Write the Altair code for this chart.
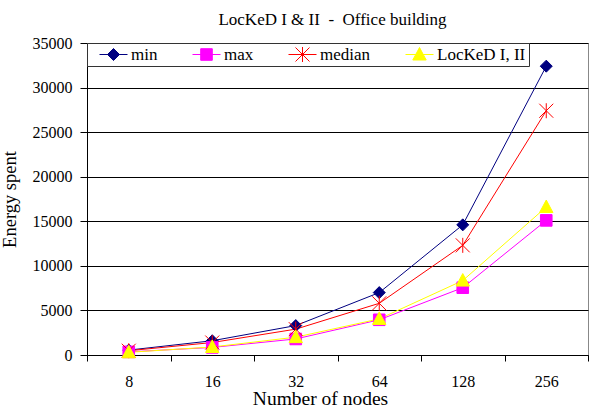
import altair as alt
import pandas as pd

# Number of nodes (categorical x axis)
nodes = ["8", "16", "32", "64", "128", "256"]

# Series names and values (energy spent)
series_names = ["min", "max", "median", "LocKeD I, II"]
energy_min = [550, 1600, 3300, 7000, 14600, 32400]
energy_max = [350, 850, 1800, 3950, 7550, 15100]
energy_median = [480, 1400, 2900, 5800, 12300, 27400]
energy_locked = [300, 900, 2000, 4050, 8350, 16600]

series_colors = ["#000080", "#FF00FF", "#FF0000", "#FFFF00"]
series_values = [energy_min, energy_max, energy_median, energy_locked]

rows = []
for name, vals in zip(series_names, series_values):
    for n, v in zip(nodes, vals):
        rows.append({"nodes": n, "series": name, "energy": v})
df = pd.DataFrame(rows)

FONT = "Liberation Serif"

# Marker outlines in symbol units (1 unit = sqrt(size)/2 px)
marker_shapes = {
    "min": [([(0, -0.6), (0.6, 0), (0, 0.6), (-0.6, 0)], True)],
    "max": [([(-0.58, -0.58), (0.58, -0.58), (0.58, 0.58), (-0.58, 0.58)], True)],
    "median": [
        ([(0, -0.75), (0, 0.75)], False),
        ([(-0.7, -0.7), (0.7, 0.7)], False),
        ([(-0.7, 0.7), (0.7, -0.7)], False),
    ],
    "LocKeD I, II": [([(0, -0.7), (0.67, 0.55), (-0.67, 0.55)], True)],
}


def to_path(parts, k=1.0):
    out = []
    for pts, closed in parts:
        seg = "M" + "L".join(f"{x * k:.3f},{y * k:.3f}" for x, y in pts)
        if closed:
            seg += "Z"
        out.append(seg)
    return "".join(out)


POINT_SIZE = 400          # 10 px per unit
LEGEND_SIZE = 784         # 14 px per unit -> 28 px wide legend key
leg_k = 10 / 14

legend_paths = ["M-1,0L1,0" + to_path(marker_shapes[s], leg_k) for s in series_names]

x_enc = alt.X(
    "nodes:N",
    sort=nodes,
    scale=alt.Scale(paddingInner=0, paddingOuter=0),
    axis=alt.Axis(
        title="Number of nodes",
        labelAngle=0,
        tickBand="extent",
        labelFont=FONT, labelFontSize=16, labelColor="black",
        labelPadding=12,
        tickColor="black", tickSize=6,
        domainColor="black",
        grid=False,
        titleFont=FONT, titleFontSize=19.5, titleFontWeight="normal", titleColor="black",
        titleX=233, titleY=49, titleAlign="center", titleBaseline="alphabetic",
    ),
)
y_enc = alt.Y(
    "energy:Q",
    scale=alt.Scale(domain=[0, 35000], nice=False),
    axis=alt.Axis(
        title="Energy spent",
        values=list(range(0, 35001, 5000)),
        format="d",
        labelFont=FONT, labelFontSize=16, labelColor="black",
        labelPadding=8,
        tickColor="black", tickSize=7,
        domainColor="black",
        gridColor="black", gridWidth=1,
        titleFont=FONT, titleFontSize=18.5, titleFontWeight="normal", titleColor="black",
        titlePadding=13,
    ),
)

# Each series: a thin line plus its own marker, drawn in series order
series_layers = []
for s, c in zip(series_names, series_colors):
    base = alt.Chart(df).transform_filter(alt.datum.series == s)
    series_layers.append(base.mark_line(strokeWidth=1, color=c).encode(x=x_enc, y=y_enc))
for s, c in zip(series_names, series_colors):
    base = alt.Chart(df).transform_filter(alt.datum.series == s)
    series_layers.append(
        base.mark_point(filled=True, opacity=1, size=POINT_SIZE, strokeWidth=1,
                        shape=to_path(marker_shapes[s]), fill=c, stroke=c)
        .encode(x=x_enc, y=y_enc)
    )

# Legend keys: line segment with the series marker; the layer itself draws nothing
color_scale = alt.Scale(domain=series_names, range=series_colors)
legend_layer = (
    alt.Chart(df)
    .transform_filter("false")
    .mark_point(filled=True, opacity=1, strokeWidth=1)
    .encode(
        x=x_enc,
        y=y_enc,
        color=alt.Color("series:N", scale=color_scale, title=None),
        stroke=alt.Stroke("series:N", scale=color_scale, title=None),
        shape=alt.Shape("series:N", scale=alt.Scale(domain=series_names, range=legend_paths),
                        title=None),
    )
)

chart = (
    alt.layer(*series_layers, legend_layer)
    .properties(
        width=501,
        height=312,
        padding={"left": 87, "top": 43, "right": 3, "bottom": 55},
        autosize=alt.AutoSizeParams(type="none"),
        background="white",
        title=alt.TitleParams(
            "LocKeD I & II \u00a0-\u00a0 Office building",
            font=FONT, fontSize=17, fontWeight="normal", color="black",
            anchor="middle", baseline="alphabetic", offset=18.5, frame="group",
            dx=-5, dy=25,
        ),
    )
    .configure_view(stroke="#888888", strokeWidth=1)
    .configure_legend(
        orient="top-left",
        direction="horizontal",
        offset=0,
        padding=3,
        strokeColor="#333333",
        fillColor="white",
        symbolSize=LEGEND_SIZE,
        symbolOffset=9,
        clipHeight=17,
        symbolStrokeWidth=1,
        labelFont=FONT, labelFontSize=17, labelColor="black",
        labelOffset=3,
        columnPadding=25,
    )
)

chart.save("out.html", embed_options={"renderer": "svg", "actions": False})
